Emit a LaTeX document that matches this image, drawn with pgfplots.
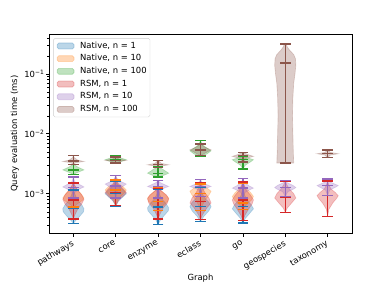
\documentclass[border=0pt]{standalone}
\usepackage{pgfplots}
\pgfplotsset{compat=1.18}
\usepackage{fontspec}
\setmainfont{DejaVu Sans}
\definecolor{nat1}{HTML}{1F77B4}
\definecolor{nat10}{HTML}{FF7F0E}
\definecolor{nat100}{HTML}{2CA02C}
\definecolor{rsm1}{HTML}{D62728}
\definecolor{rsm10}{HTML}{9467BD}
\definecolor{rsm100}{HTML}{8C564B}
% violin body: #1 colour, #2 position, #3 rows "y halfwidth"
\newcommand{\violin}[3]{%
  \addplot[fill=#1, fill opacity=0.3, draw=#1, draw opacity=0.25, line width=0.8bp, forget plot] table[x expr=#2+\thisrow{w}, y=y, row sep=\\] {y w\\ #3};
  \addplot[fill=#1, fill opacity=0.3, draw=#1, draw opacity=0.25, line width=0.8bp, forget plot] table[x expr=#2-\thisrow{w}, y=y, row sep=\\] {y w\\ #3};
}
% min / median / max bar: #1 colour, #2 position, #3 min, #4 median, #5 max
\newcommand{\stats}[5]{%
  \addplot[#1, line width=1.6bp, mark=-, mark size=6.26bp, mark options={solid}, forget plot] coordinates {(#2,#3) (#2,#4) (#2,#5)};
}
\pgfplotsset{vleg/.style={legend image code/.code={\draw[fill=#1, fill opacity=0.3, draw=#1, draw opacity=0.3, line width=0.8bp] (0bp,-3.5bp) rectangle (20bp,3.5bp); \path (0bp,0bp) (27bp,0bp);}}}
\begin{document}
\begin{tikzpicture}
\path[use as bounding box] (-57.9bp,-69.6bp) rectangle (402.9bp,276.1bp);
\begin{axis}[
  at={(0,0)}, anchor=south west,
  scale only axis, width=358bp, height=236bp,
  ymode=log,
  xmin=0.425, xmax=7.575,
  ymin=2.154e-4, ymax=0.464,
  xtick={1,2,3,4,5,6,7},
  xticklabels={pathways,core,enzyme,eclass,go,geospecies,taxonomy},
  ytick={1e-3,1e-2,1e-1},
  yticklabels={10\textsuperscript{−3},10\textsuperscript{−2},10\textsuperscript{−1}},
  minor ytick={3e-4,4e-4,5e-4,6e-4,7e-4,8e-4,9e-4,2e-3,3e-3,4e-3,5e-3,6e-3,7e-3,8e-3,9e-3,2e-2,3e-2,4e-2,5e-2,6e-2,7e-2,8e-2,9e-2,2e-1,3e-1,4e-1},
  tick align=outside,
  xtick pos=bottom, ytick pos=left,
  major tick length=3.5bp, minor tick length=2bp,
  every tick/.style={black, line width=0.8bp},
  minor tick style={line width=0.6bp},
  axis line style={black, line width=0.8bp},
  tick label style={font=\fontsize{10}{12}\selectfont},
  xticklabel style={rotate=30, anchor=north east, inner sep=1bp, xshift=-3bp, yshift=-1bp},
  yticklabel style={inner sep=1bp, xshift=-1bp},
  label style={font=\fontsize{10}{12}\selectfont},
  xlabel={Graph},
  ylabel={Query evaluation time (ms)},
  xlabel style={at={(axis description cs:0.5,0)}, anchor=north, yshift=-44bp},
  ylabel style={at={(axis description cs:0,0.5)}, anchor=south, xshift=0bp, yshift=32bp},
  legend style={at={(axis description cs:0,1)}, anchor=north west, xshift=5bp, yshift=-5bp,
    draw=black!20, rounded corners=2bp, fill=white, fill opacity=0.8, text opacity=1,
    font=\fontsize{10}{12}\selectfont, inner sep=4bp, row sep=5bp,
    nodes={inner sep=0pt, text height=7.5bp, text depth=2.5bp}},
  legend cell align=left,
  clip=true,
]
\addlegendimage{vleg=nat1}\addlegendentry{Native, n = 1}
\addlegendimage{vleg=nat10}\addlegendentry{Native, n = 10}
\addlegendimage{vleg=nat100}\addlegendentry{Native, n = 100}
\addlegendimage{vleg=rsm1}\addlegendentry{RSM, n = 1}
\addlegendimage{vleg=rsm10}\addlegendentry{RSM, n = 10}
\addlegendimage{vleg=rsm100}\addlegendentry{RSM, n = 100}

% ---------- Native, n = 1 ----------
\violin{nat1}{1}{3.2e-4 0\\ 3.6e-4 0.06\\ 4.2e-4 0.15\\ 5e-4 0.24\\ 5.6e-4 0.25\\ 6.5e-4 0.2\\ 7.5e-4 0.12\\ 9e-4 0.06\\ 1.15e-3 0\\}
\violin{nat1}{2}{6.1e-4 0\\ 7.5e-4 0.06\\ 9e-4 0.18\\ 1.0e-3 0.25\\ 1.15e-3 0.18\\ 1.35e-3 0.06\\ 1.6e-3 0\\}
\violin{nat1}{3}{3.05e-4 0\\ 3.6e-4 0.05\\ 4.3e-4 0.14\\ 5.2e-4 0.24\\ 5.8e-4 0.25\\ 6.8e-4 0.19\\ 8e-4 0.1\\ 9.5e-4 0.04\\ 1.2e-3 0\\}
\violin{nat1}{4}{3.45e-4 0\\ 4.2e-4 0.08\\ 5.2e-4 0.2\\ 6.1e-4 0.25\\ 7.2e-4 0.2\\ 8.5e-4 0.1\\ 1.0e-3 0.04\\ 1.3e-3 0\\}
\violin{nat1}{5}{3.25e-4 0\\ 3.9e-4 0.06\\ 4.7e-4 0.16\\ 5.6e-4 0.25\\ 6.5e-4 0.2\\ 7.8e-4 0.1\\ 9.5e-4 0.04\\ 1.25e-3 0\\}
\stats{nat1}{1}{3.2e-4}{5.8e-4}{1.15e-3}
\stats{nat1}{2}{6.1e-4}{1.0e-3}{1.6e-3}
\stats{nat1}{3}{3.05e-4}{6e-4}{1.2e-3}
\stats{nat1}{4}{3.45e-4}{6.1e-4}{1.3e-3}
\stats{nat1}{5}{3.25e-4}{6.1e-4}{1.25e-3}

% ---------- Native, n = 10 ----------
\violin{nat10}{1}{6e-4 0\\ 6.8e-4 0.1\\ 7.8e-4 0.22\\ 8.5e-4 0.25\\ 1.0e-3 0.18\\ 1.2e-3 0.08\\ 1.5e-3 0\\}
\violin{nat10}{2}{6.3e-4 0\\ 8e-4 0.05\\ 1.0e-3 0.18\\ 1.15e-3 0.25\\ 1.3e-3 0.18\\ 1.5e-3 0.05\\ 1.7e-3 0\\}
\violin{nat10}{3}{5.2e-4 0\\ 6.2e-4 0.1\\ 7.5e-4 0.23\\ 8.5e-4 0.25\\ 1.0e-3 0.15\\ 1.25e-3 0\\}
\violin{nat10}{4}{5.3e-4 0\\ 6.5e-4 0.05\\ 8e-4 0.12\\ 9.5e-4 0.2\\ 1.1e-3 0.25\\ 1.25e-3 0.15\\ 1.45e-3 0\\}
\violin{nat10}{5}{5.5e-4 0\\ 6.5e-4 0.08\\ 7.8e-4 0.2\\ 9e-4 0.25\\ 1.05e-3 0.18\\ 1.25e-3 0.06\\ 1.5e-3 0\\}
\stats{nat10}{1}{6e-4}{8.5e-4}{1.5e-3}
\stats{nat10}{2}{6.3e-4}{1.15e-3}{1.7e-3}
\stats{nat10}{3}{5.2e-4}{7.5e-4}{1.25e-3}
\stats{nat10}{4}{5.3e-4}{1.0e-3}{1.45e-3}
\stats{nat10}{5}{5.5e-4}{7e-4}{1.5e-3}

% ---------- Native, n = 100 ----------
\violin{nat100}{1}{2.1e-3 0\\ 2.3e-3 0.12\\ 2.5e-3 0.25\\ 2.75e-3 0.12\\ 3.1e-3 0\\}
\violin{nat100}{2}{3.2e-3 0\\ 3.45e-3 0.12\\ 3.7e-3 0.25\\ 3.95e-3 0.12\\ 4.3e-3 0\\}
\violin{nat100}{3}{1.9e-3 0\\ 2.05e-3 0.15\\ 2.2e-3 0.25\\ 2.45e-3 0.15\\ 2.85e-3 0\\}
\violin{nat100}{4}{4.2e-3 0\\ 4.6e-3 0.15\\ 5.2e-3 0.25\\ 5.8e-3 0.15\\ 6.5e-3 0.05\\ 7.7e-3 0\\}
\violin{nat100}{5}{2.6e-3 0\\ 3.0e-3 0.06\\ 3.4e-3 0.18\\ 3.7e-3 0.25\\ 3.95e-3 0.12\\ 4.2e-3 0\\}
\stats{nat100}{1}{2.1e-3}{2.5e-3}{3.1e-3}
\stats{nat100}{2}{3.2e-3}{3.7e-3}{4.3e-3}
\stats{nat100}{3}{1.9e-3}{2.2e-3}{2.85e-3}
\stats{nat100}{4}{4.2e-3}{5.2e-3}{7.7e-3}
\stats{nat100}{5}{2.6e-3}{3.7e-3}{4.2e-3}

% ---------- RSM, n = 1 ----------
\violin{rsm1}{1}{3.8e-4 0\\ 4.5e-4 0.04\\ 5.5e-4 0.1\\ 6.8e-4 0.2\\ 8e-4 0.25\\ 9.5e-4 0.2\\ 1.15e-3 0.1\\ 1.5e-3 0\\}
\violin{rsm1}{2}{6.4e-4 0\\ 8e-4 0.08\\ 9.5e-4 0.2\\ 1.05e-3 0.25\\ 1.2e-3 0.18\\ 1.45e-3 0.06\\ 2.0e-3 0\\}
\violin{rsm1}{3}{3.8e-4 0\\ 4.5e-4 0.04\\ 5.8e-4 0.12\\ 7e-4 0.22\\ 8.2e-4 0.25\\ 9.5e-4 0.2\\ 1.08e-3 0.1\\ 1.21e-3 0\\}
\violin{rsm1}{4}{3.7e-4 0\\ 4.5e-4 0.05\\ 5.8e-4 0.15\\ 7e-4 0.25\\ 8.5e-4 0.2\\ 1.05e-3 0.1\\ 1.3e-3 0.04\\ 1.55e-3 0\\}
\violin{rsm1}{5}{3.6e-4 0\\ 4.4e-4 0.05\\ 5.6e-4 0.14\\ 6.8e-4 0.22\\ 7.9e-4 0.25\\ 9.5e-4 0.18\\ 1.15e-3 0.08\\ 1.57e-3 0\\}
\violin{rsm1}{6}{4.9e-4 0\\ 5.8e-4 0.05\\ 7e-4 0.15\\ 8.5e-4 0.25\\ 1.0e-3 0.2\\ 1.2e-3 0.1\\ 1.4e-3 0.04\\ 1.63e-3 0\\}
\violin{rsm1}{7}{4.2e-4 0\\ 5.5e-4 0.03\\ 7e-4 0.12\\ 8.5e-4 0.22\\ 9.3e-4 0.25\\ 1.05e-3 0.18\\ 1.2e-3 0.08\\ 1.4e-3 0.03\\ 1.63e-3 0\\}
\stats{rsm1}{1}{3.8e-4}{7.9e-4}{1.5e-3}
\stats{rsm1}{2}{6.4e-4}{1.05e-3}{2.0e-3}
\stats{rsm1}{3}{3.8e-4}{8.5e-4}{1.21e-3}
\stats{rsm1}{4}{3.7e-4}{7.4e-4}{1.55e-3}
\stats{rsm1}{5}{3.6e-4}{7.9e-4}{1.57e-3}
\stats{rsm1}{6}{4.9e-4}{8.8e-4}{1.63e-3}
\stats{rsm1}{7}{4.2e-4}{9.3e-4}{1.63e-3}

% ---------- RSM, n = 10 ----------
\violin{rsm10}{1}{8.5e-4 0\\ 1.05e-3 0.03\\ 1.2e-3 0.15\\ 1.3e-3 0.25\\ 1.42e-3 0.15\\ 1.6e-3 0.03\\ 1.9e-3 0\\}
\violin{rsm10}{2}{8.5e-4 0\\ 1.1e-3 0.04\\ 1.3e-3 0.15\\ 1.45e-3 0.25\\ 1.6e-3 0.12\\ 1.8e-3 0.03\\ 2.0e-3 0\\}
\violin{rsm10}{3}{8.5e-4 0\\ 1.1e-3 0.04\\ 1.25e-3 0.15\\ 1.32e-3 0.25\\ 1.42e-3 0.15\\ 1.55e-3 0.04\\ 1.67e-3 0\\}
\violin{rsm10}{4}{9e-4 0\\ 1.15e-3 0.04\\ 1.25e-3 0.15\\ 1.32e-3 0.25\\ 1.42e-3 0.15\\ 1.55e-3 0.04\\ 1.72e-3 0\\}
\violin{rsm10}{5}{8.5e-4 0\\ 1.05e-3 0.05\\ 1.18e-3 0.18\\ 1.24e-3 0.25\\ 1.35e-3 0.15\\ 1.55e-3 0.03\\ 1.78e-3 0\\}
\violin{rsm10}{6}{9e-4 0\\ 1.08e-3 0.06\\ 1.2e-3 0.2\\ 1.27e-3 0.25\\ 1.38e-3 0.18\\ 1.52e-3 0.05\\ 1.65e-3 0\\}
\violin{rsm10}{7}{9.3e-4 0\\ 1.15e-3 0.05\\ 1.3e-3 0.2\\ 1.37e-3 0.25\\ 1.47e-3 0.15\\ 1.6e-3 0.04\\ 1.76e-3 0\\}
\stats{rsm10}{1}{8.5e-4}{1.28e-3}{1.9e-3}
\stats{rsm10}{2}{8.5e-4}{1.35e-3}{2.0e-3}
\stats{rsm10}{3}{8.5e-4}{1.32e-3}{1.67e-3}
\stats{rsm10}{4}{9e-4}{1.32e-3}{1.72e-3}
\stats{rsm10}{5}{8.5e-4}{1.24e-3}{1.78e-3}
\stats{rsm10}{6}{9e-4}{1.27e-3}{1.65e-3}
\stats{rsm10}{7}{9.3e-4}{1.37e-3}{1.76e-3}

% ---------- RSM, n = 100 ----------
\violin{rsm100}{1}{3.1e-3 0\\ 3.3e-3 0.06\\ 3.45e-3 0.25\\ 3.65e-3 0.1\\ 4e-3 0.02\\ 4.3e-3 0\\}
\violin{rsm100}{2}{3.25e-3 0\\ 3.45e-3 0.1\\ 3.6e-3 0.25\\ 3.8e-3 0.08\\ 4.1e-3 0\\}
\violin{rsm100}{3}{2.75e-3 0\\ 2.9e-3 0.08\\ 3.04e-3 0.25\\ 3.2e-3 0.08\\ 3.6e-3 0\\}
\violin{rsm100}{4}{4.3e-3 0\\ 4.8e-3 0.12\\ 5.4e-3 0.25\\ 6e-3 0.1\\ 6.8e-3 0\\}
\violin{rsm100}{5}{3.4e-3 0\\ 3.9e-3 0.08\\ 4.2e-3 0.25\\ 4.5e-3 0.12\\ 4.9e-3 0\\}
\violin{rsm100}{6}{3.25e-3 0\\ 3.25e-3 0.2\\ 5e-3 0.19\\ 1e-2 0.18\\ 2e-2 0.17\\ 4e-2 0.18\\ 7e-2 0.2\\ 0.1 0.23\\ 0.14 0.25\\ 0.18 0.24\\ 0.21 0.2\\ 0.25 0.1\\ 0.28 0.05\\ 0.316 0.02\\ 0.316 0\\}
\violin{rsm100}{7}{4.0e-3 0\\ 4.4e-3 0.06\\ 4.65e-3 0.25\\ 4.9e-3 0.06\\ 5.4e-3 0\\}
\stats{rsm100}{1}{3.1e-3}{3.5e-3}{4.3e-3}
\stats{rsm100}{2}{3.25e-3}{3.6e-3}{4.1e-3}
\stats{rsm100}{3}{2.75e-3}{3.04e-3}{3.6e-3}
\stats{rsm100}{4}{4.3e-3}{5.4e-3}{6.8e-3}
\stats{rsm100}{5}{3.4e-3}{4.3e-3}{4.9e-3}
\stats{rsm100}{6}{3.25e-3}{0.152}{0.316}
\stats{rsm100}{7}{4.0e-3}{4.65e-3}{5.4e-3}
\end{axis}
\end{tikzpicture}
\end{document}
